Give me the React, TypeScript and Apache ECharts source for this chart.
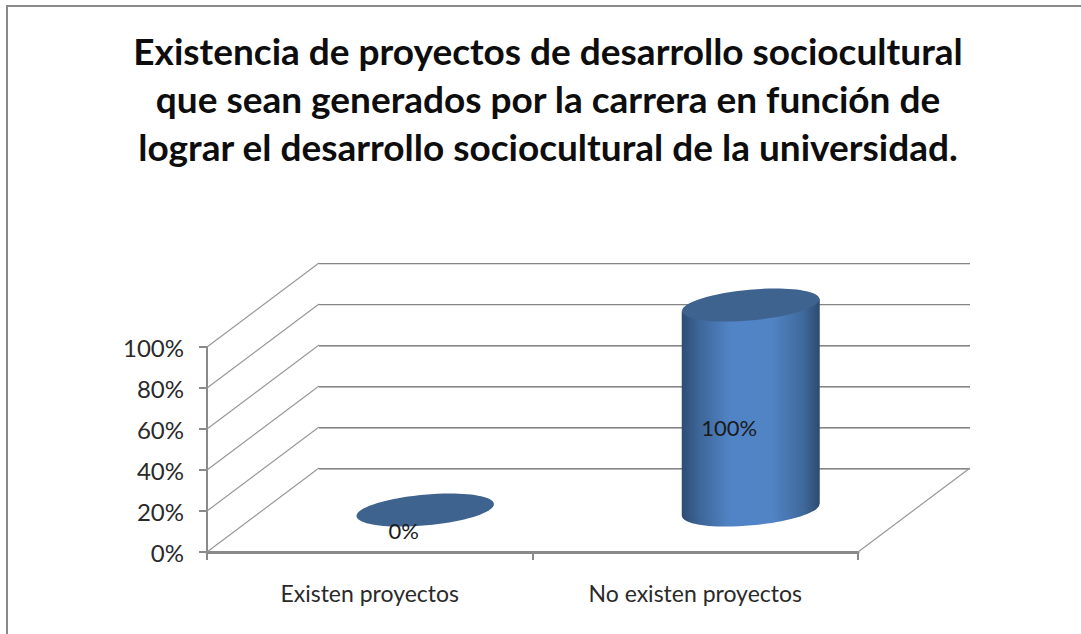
import React, { useEffect, useRef } from "react";
import * as echarts from "echarts";

const titleLines = [
  "Existencia de proyectos de desarrollo sociocultural",
  "que sean generados por la carrera en función de",
  "lograr el desarrollo sociocultural de la universidad.",
];
const categories = ["Existen proyectos", "No existen proyectos"];
const values = [0, 100];
const yTicks = [0, 20, 40, 60, 80, 100];

const DEPTH_X = 112;
const DEPTH_Y = 84;
const AXIS_GRAY = "#8a8a8a";
const FONT = "Lato, 'Open Sans', sans-serif";

function wallItem(params: any, api: any) {
  const tick = api.value(1);
  const [, y] = api.coord([0, tick]);
  const left = params.coordSys.x;
  const right = left + params.coordSys.width;
  const backY = y - DEPTH_Y;
  const children: any[] = [
    {
      type: "polyline",
      silent: true,
      shape: { points: [[left, y], [left + DEPTH_X, backY]] },
      style: { stroke: "#989898", lineWidth: 1.2, fill: "none" },
    },
    {
      type: "line",
      silent: true,
      shape: { x1: left + DEPTH_X, y1: backY + 0.5, x2: right + DEPTH_X, y2: backY + 0.5 },
      style: { stroke: "#858585", lineWidth: 1 },
    },
    {
      type: "line",
      silent: true,
      shape: { x1: left + DEPTH_X, y1: backY + 1.5, x2: right + DEPTH_X, y2: backY + 1.5 },
      style: { stroke: tick >= 80 ? "#dedede" : "#b5b5b5", lineWidth: 1 },
    },
  ];
  if (tick === 0) {
    children.push({
      type: "line",
      silent: true,
      shape: { x1: right, y1: y, x2: right + DEPTH_X, y2: backY },
      style: { stroke: "#989898", lineWidth: 1.2 },
    });
  }
  return { type: "group", children };
}

function cylinderItem(_params: any, api: any) {
  const [cx, top] = api.coord([api.value(0), api.value(1)]);
  const [, base] = api.coord([api.value(0), 0]);
  const centerX = cx + DEPTH_X / 2 - 0.5;
  const topY = top - DEPTH_Y / 2;
  const baseY = base - DEPTH_Y / 2;
  const rx = 69;
  const ry = 15.4;
  const tilt = 0.09;
  const sideFill = () =>
    new echarts.graphic.LinearGradient(0, 0, 1, 0, [
      { offset: 0, color: "#2e4c74" },
      { offset: 0.12, color: "#3d6597" },
      { offset: 0.35, color: "#5184c6" },
      { offset: 0.65, color: "#5184c5" },
      { offset: 0.88, color: "#3f699c" },
      { offset: 1, color: "#2d4a70" },
    ]);
  const cap = (y: number, fill: any) => ({
    type: "ellipse",
    silent: true,
    x: centerX,
    y,
    rotation: tilt,
    shape: { cx: 0, cy: 0, rx, ry },
    style: { fill },
  });
  const dy = rx * Math.sin(tilt);
  const children: any[] = [];
  if (base - top > 0) {
    children.push(cap(baseY, sideFill()));
    children.push({
      type: "polygon",
      silent: true,
      shape: {
        points: [
          [centerX - rx, topY + dy],
          [centerX + rx, topY - dy],
          [centerX + rx, baseY - dy],
          [centerX - rx, baseY + dy],
        ],
      },
      style: { fill: sideFill() },
    });
  }
  children.push(cap(topY, "#3e638f"));
  children.push({
    type: "text",
    silent: true,
    x: cx + 34,
    y: (top + base) / 2 - 22,
    z2: 10,
    style: {
      text: `${api.value(1)}%`,
      font: `22px ${FONT}`,
      fill: "#1a1a1a",
      align: "center",
      verticalAlign: "middle",
    },
  });
  return { type: "group", children };
}

export default function App() {
  const ref = useRef<HTMLDivElement>(null);
  useEffect(() => {
    const chart = echarts.init(ref.current!, undefined, { renderer: "svg" });
    chart.setOption({
      animation: false,
      backgroundColor: "#ffffff",
      title: {
        text: titleLines.join("\n"),
        left: 543,
        top: 21,
        textAlign: "center",
        textStyle: {
          fontFamily: FONT,
          fontSize: 37,
          fontWeight: "bold",
          color: "#0d0d0d",
          lineHeight: 48,
        },
      },
      graphic: [
        {
          type: "polyline",
          silent: true,
          shape: { points: [[7, 634], [7, 6], [1081, 6]] },
          style: { stroke: AXIS_GRAY, lineWidth: 2, fill: "none" },
        },
      ],
      grid: { left: 207, top: 347, width: 651, height: 205 },
      xAxis: {
        type: "category",
        data: categories,
        axisLine: { lineStyle: { color: AXIS_GRAY, width: 3 } },
        axisTick: { show: true, length: 8, lineStyle: { color: AXIS_GRAY, width: 2 } },
        axisLabel: { color: "#2a2a2a", fontFamily: FONT, fontSize: 23, margin: 29 },
      },
      yAxis: {
        type: "value",
        min: 0,
        max: 100,
        interval: 20,
        splitLine: { show: false },
        axisLine: { show: true, lineStyle: { color: AXIS_GRAY, width: 2 } },
        axisTick: { show: true, length: 8, lineStyle: { color: AXIS_GRAY, width: 2 } },
        axisLabel: {
          color: "#2a2a2a",
          fontFamily: FONT,
          fontSize: 24,
          margin: 23,
          formatter: "{value}%",
        },
      },
      series: [
        {
          type: "custom",
          z: 1,
          silent: true,
          renderItem: wallItem,
          encode: { x: 0, y: 1 },
          data: yTicks.map((t) => [0, t]),
        },
        {
          type: "custom",
          z: 3,
          silent: true,
          renderItem: cylinderItem,
          encode: { x: 0, y: 1 },
          data: values.map((v, i) => [i, v]),
        },
      ],
    });
    return () => chart.dispose();
  }, []);
  return (
    <div
      ref={ref}
      style={{ position: "fixed", left: 0, top: 0, width: 1081, height: 634 }}
    />
  );
}
